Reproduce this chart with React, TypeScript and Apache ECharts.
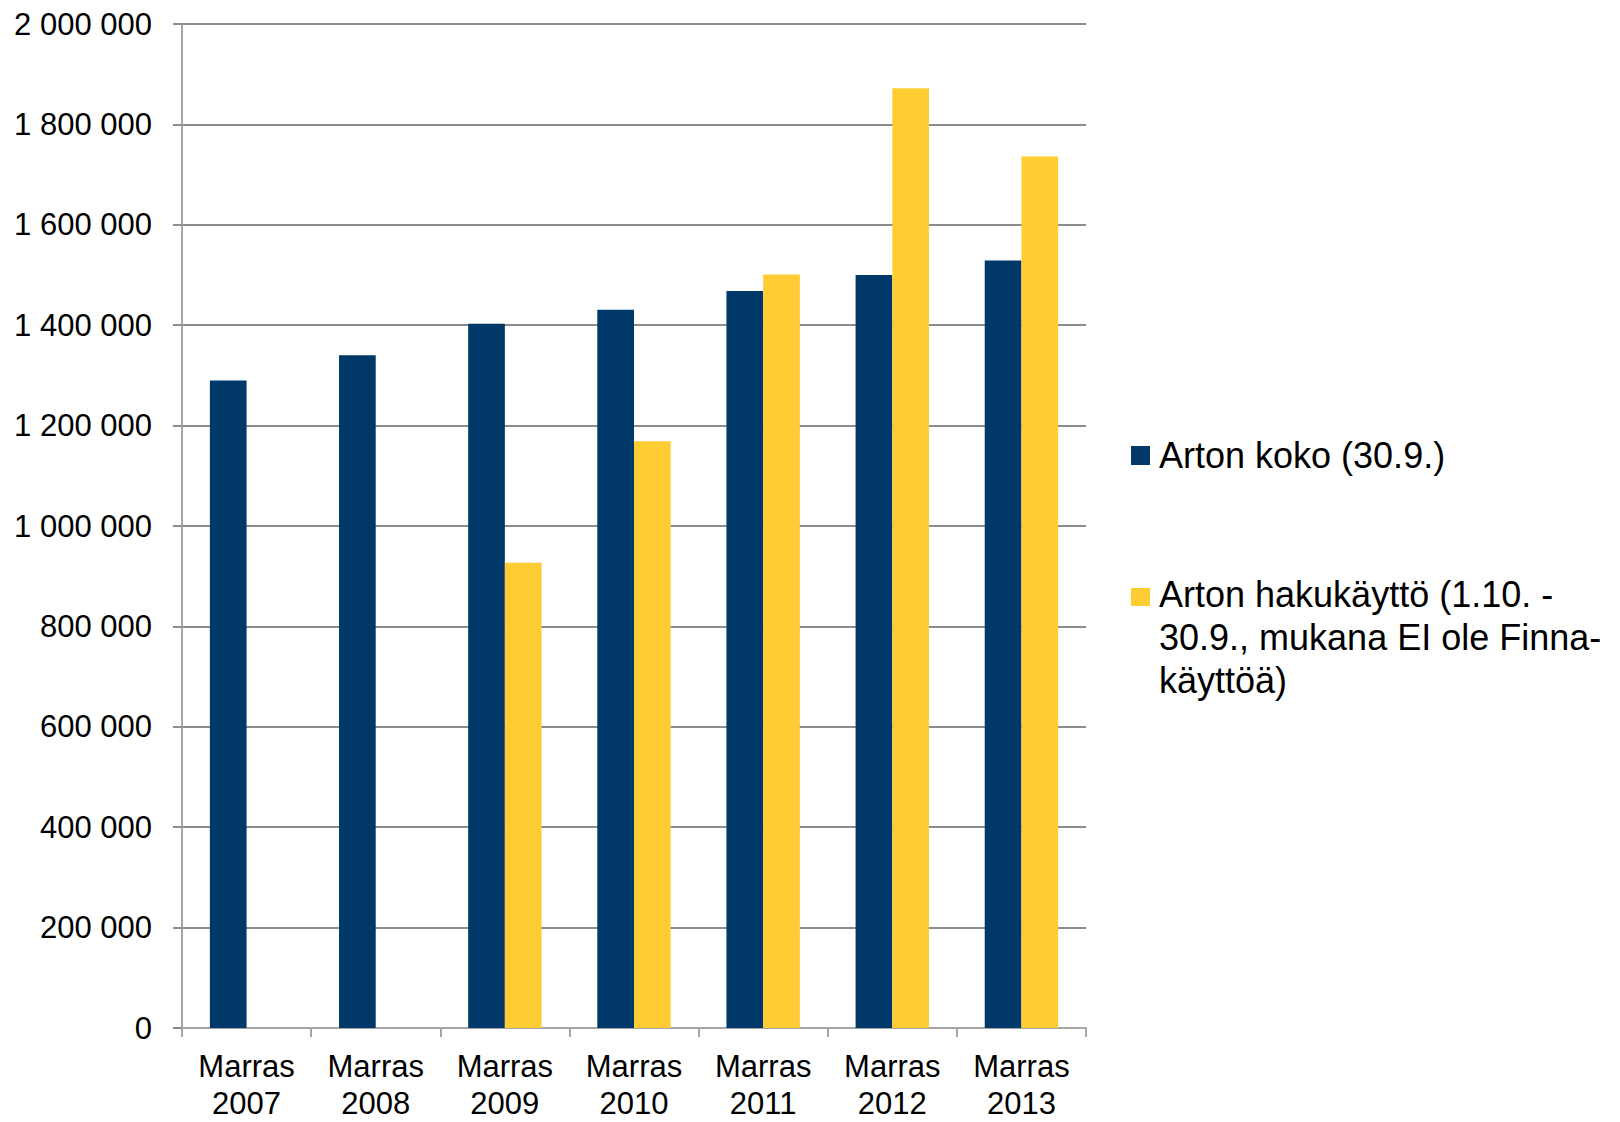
import React, { useEffect, useRef } from "react";
import * as echarts from "echarts";

const categories = [
  "Marras\n2007",
  "Marras\n2008",
  "Marras\n2009",
  "Marras\n2010",
  "Marras\n2011",
  "Marras\n2012",
  "Marras\n2013",
];
const seriesSizeName = "Arton koko (30.9.)";
const seriesUseName = "Arton hakukäyttö (1.10. - 30.9., mukana EI ole Finna-käyttöä)";
const seriesUseLegendText = "Arton hakukäyttö (1.10. -\n30.9., mukana EI ole Finna-\nkäyttöä)";
const sizeValues = [1290000, 1340000, 1403000, 1431000, 1468000, 1500000, 1529000];
const useValues: (number | null)[] = [null, null, 927000, 1169000, 1501000, 1872000, 1736000];
const yMin = 0;
const yMax = 2000000;
const yInterval = 200000;

const FONT = "'Liberation Sans', Arial, sans-serif";
const NAVY = "#003869";
const YELLOW = "#FFCC33";

function fmt(v: number): string {
  return String(v).replace(/\B(?=(\d{3})+(?!\d))/g, " ");
}

export default function App() {
  const ref = useRef<HTMLDivElement>(null);
  useEffect(() => {
    if (!ref.current) return;
    const chart = echarts.init(ref.current, null, { renderer: "svg" });
    chart.setOption({
      animation: false,
      backgroundColor: "#ffffff",
      textStyle: { fontFamily: FONT },
      grid: { left: 182, right: 534, top: 24, bottom: 90, containLabel: false },
      legend: [
        {
          data: [seriesSizeName],
          orient: "vertical",
          left: 1131,
          top: 434,
          padding: 0,
          icon: "rect",
          itemWidth: 19,
          itemHeight: 19,
          selectedMode: false,
          textStyle: {
            fontFamily: FONT,
            fontSize: 36,
            color: "#000",
            lineHeight: 43,
            padding: [0, 0, 0, 4],
          },
        },
      ],
      graphic: [
        {
          type: "rect",
          left: 1131,
          top: 588,
          shape: { width: 19, height: 18 },
          style: { fill: YELLOW },
          silent: true,
        },
        {
          type: "text",
          left: 1159,
          top: 573,
          silent: true,
          style: {
            text: seriesUseLegendText,
            fontFamily: FONT,
            fontSize: 36,
            lineHeight: 43,
            fill: "#000",
            verticalAlign: "top",
          },
        },
      ],
      xAxis: {
        type: "category",
        data: categories,
        boundaryGap: true,
        axisLine: { show: true, lineStyle: { color: "#a6a6a6", width: 2 } },
        axisTick: { show: true, length: 9, lineStyle: { color: "#a6a6a6", width: 2 } },
        axisLabel: {
          interval: 0,
          margin: 20,
          fontFamily: FONT,
          fontSize: 31,
          lineHeight: 37,
          color: "#000",
        },
        splitLine: { show: false },
      },
      yAxis: {
        type: "value",
        min: yMin,
        max: yMax,
        interval: yInterval,
        axisLine: { show: true, lineStyle: { color: "#a6a6a6", width: 2 } },
        axisTick: { show: true, length: 9, lineStyle: { color: "#8c8c8c", width: 2 } },
        axisLabel: {
          margin: 30,
          fontFamily: FONT,
          fontSize: 31,
          color: "#000",
          formatter: (v: number) => fmt(v),
        },
        splitLine: { show: true, lineStyle: { color: "#8c8c8c", width: 2 } },
      },
      series: [
        {
          name: seriesSizeName,
          type: "bar",
          data: sizeValues,
          barWidth: 36.7,
          barGap: "0%",
          itemStyle: { color: NAVY },
        },
        {
          name: seriesUseName,
          type: "bar",
          data: useValues,
          barWidth: 36.7,
          barGap: "0%",
          itemStyle: { color: YELLOW },
        },
      ],
    });
    return () => chart.dispose();
  }, []);
  return (
    <div
      ref={ref}
      style={{ position: "absolute", left: 0, top: 0, width: 1620, height: 1122 }}
    />
  );
}
